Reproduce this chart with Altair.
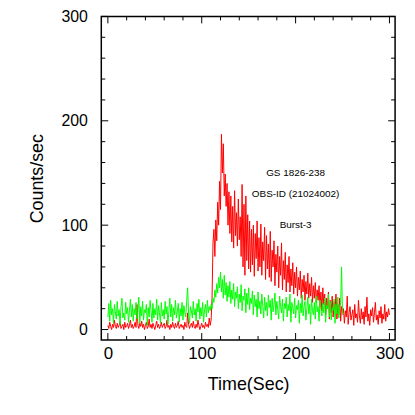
import altair as alt
import pandas as pd

# ---- data ----
red_counts = [
    4, 1, 7, 3, 0, 5, 2, 9, 3, 1,
    6, 2, 4, 8, 1, 3, 5, 0, 7, 2,
    3, 6, 1, 4, 9, 2, 5, 1, 3, 7,
    2, 24, 4, 1, 6, 3, 8, 2, 5, 0,
    4, 7, 1, 3, 10, 2, 5, 1, 6, 3,
    0, 4, 8, 2, 5, 1, 3, 7, 2, 4,
    6, 1, 3, 9, 2, 4, 0, 5, 2, 7,
    3, 1, 6, 2, 4, 8, 1, 3, 5, 2,
    4, 0, 7, 3, 2, 16, 5, 1, 4, 6,
    2, 8, 3, 1, 5, 2, 9, 4, 0, 3,
    6, 2, 4, 1, 7, 3, 5, 2, 11, 4,
    9, 30, 83, 96, 70, 105, 85, 122, 100, 142,
    115, 187, 150, 178, 128, 149, 118, 140, 100, 132,
    92, 128, 84, 118, 78, 133, 90, 112, 80, 125,
    86, 108, 70, 139, 60, 120, 52, 128, 66, 110,
    58, 104, 55, 96, 62, 100, 51, 92, 68, 104,
    56, 88, 60, 101, 52, 84, 66, 98, 48, 90,
    58, 82, 50, 94, 46, 76, 60, 85, 42, 72,
    55, 80, 40, 70, 52, 83, 38, 66, 48, 74,
    36, 62, 45, 70, 36, 58, 42, 64, 34, 55,
    40, 60, 32, 50, 38, 56, 30, 48, 36, 52,
    28, 46, 34, 54, 30, 44, 32, 50, 26, 42,
    30, 45, 26, 38, 28, 42, 22, 36, 18, 40,
    24, 34, 14, 30, 20, 36, 10, 28, 16, 32,
    12, 26, 18, 34, 10, 24, 14, 30, 8, 22,
    16, 20, 6, 18, 12, 32, 5, 16, 22, 9,
    14, 19, 4, 24, 11, 15, 7, 28, 13, 6,
    20, 10, 17, 5, 22, 12, 31, 8, 15, 4,
    19, 13, 21, 7, 16, 26, 9, 14, 5, 18,
    11, 22, 6, 15, 10, 24, 8, 17, 12, 20,
    14,
]

green_counts = [
    12, 25, 8, 28, 14, 20, 6, 24, 17, 10,
    27, 13, 19, 5, 22, 30, 11, 16, 9, 26,
    15, 21, 7, 18, 29, 12, 24, 8, 20, 14,
    26, 10, 17, 31, 6, 22, 13, 27, 9, 19,
    16, 24, 4, 21, 12, 28, 18, 7, 25, 11,
    20, 14, 29, 9, 23, 16, 6, 26, 13, 19,
    10, 27, 15, 22, 5, 18, 30, 12, 24, 8,
    21, 14, 28, 11, 17, 25, 7, 20, 13, 26,
    9, 23, 16, 12, 28, 40, 15, 6, 22, 18,
    11, 27, 14, 20, 8, 25, 17, 29, 10, 21,
    13, 26, 7, 19, 24, 12, 28, 16, 22, 18,
    24, 20, 30, 26, 38, 31, 44, 35, 50, 40,
    55, 36, 48, 30, 52, 33, 45, 27, 42, 31,
    46, 25, 38, 29, 44, 22, 36, 30, 41, 20,
    34, 26, 43, 18, 32, 28, 39, 16, 35, 24,
    40, 19, 30, 25, 37, 14, 33, 22, 29, 12,
    36, 20, 27, 15, 34, 23, 11, 31, 18, 26,
    13, 33, 21, 28, 9, 30, 17, 24, 35, 14,
    27, 19, 10, 32, 22, 16, 29, 8, 25, 20,
    31, 12, 24, 18, 34, 7, 26, 21, 15, 30,
    11, 23, 19, 28, 6, 25, 16, 33, 13, 22,
    27, 9, 20, 31, 15, 24, 5, 29, 18, 14,
    26, 10, 32, 17, 22, 8, 28, 19, 13, 25,
    16, 30, 7, 23, 20, 34, 12, 27, 9, 21,
    18, 29, 6, 24, 15, 31, 11, 22, 26, 60,
    14,
]

red_time = list(range(len(red_counts)))
green_time = list(range(len(green_counts)))

label_texts = ["GS 1826-238", "OBS-ID (21024002)", "Burst-3"]
label_x = [200, 200, 200]
label_y = [150, 130, 100]

x_major = [0, 100, 200, 300]
x_minor = [20, 40, 60, 80, 120, 140, 160, 180, 220, 240, 260, 280]
y_major = [0, 100, 200, 300]
y_minor = [20, 40, 60, 80, 120, 140, 160, 180, 220, 240, 260, 280]

# ---- layout ----
W, H = 296, 326
FONT = "Liberation Sans"
xscale = alt.Scale(domain=[-7, 306], nice=False, zero=False)
yscale = alt.Scale(domain=[-10, 300], nice=False, zero=False)

red_df = pd.DataFrame({"t": red_time, "c": red_counts})
green_df = pd.DataFrame({"t": green_time, "c": green_counts})
lab_df = pd.DataFrame({"x": label_x, "y": label_y, "text": label_texts})

x_axis = alt.Axis(values=x_major, ticks=False, domain=False, grid=False,
                  labelPadding=6, labelFontSize=17, labelFont=FONT,
                  title="Time(Sec)", titleFontSize=18, titleFont=FONT,
                  titleFontWeight="normal", titleX=148, titleY=50,
                  titleBaseline="alphabetic", titleAlign="center")
y_axis = alt.Axis(values=y_major, ticks=False, domain=False, grid=False,
                  labelPadding=14, labelFontSize=16, labelFont=FONT,
                  title="Counts/sec", titleFontSize=18, titleFont=FONT,
                  titleFontWeight="normal", titleX=-59, titleY=163,
                  titleAngle=-90, titleBaseline="alphabetic", titleAlign="center")

red = alt.Chart(red_df).mark_line(color="#ff0000", strokeWidth=1).encode(
    x=alt.X("t:Q", scale=xscale, axis=x_axis),
    y=alt.Y("c:Q", scale=yscale, axis=y_axis),
)
green = alt.Chart(green_df).mark_line(color="#00ff00", strokeWidth=1).encode(
    x=alt.X("t:Q", scale=xscale),
    y=alt.Y("c:Q", scale=yscale),
)

texts = alt.Chart(lab_df).mark_text(font=FONT, fontSize=10, color="black").encode(
    x=alt.X("x:Q", scale=xscale),
    y=alt.Y("y:Q", scale=yscale),
    text="text:N",
)


def xticks(vals, length):
    df = pd.DataFrame({"v": vals})
    bottom = alt.Chart(df).mark_rule(color="black", strokeWidth=1).encode(
        x=alt.X("v:Q", scale=xscale), y=alt.value(H), y2=alt.value(H - length))
    top = alt.Chart(df).mark_rule(color="black", strokeWidth=1).encode(
        x=alt.X("v:Q", scale=xscale), y=alt.value(0), y2=alt.value(length))
    return [bottom, top]


def yticks(vals, length):
    df = pd.DataFrame({"v": vals})
    left = alt.Chart(df).mark_rule(color="black", strokeWidth=1).encode(
        y=alt.Y("v:Q", scale=yscale), x=alt.value(0), x2=alt.value(length))
    right = alt.Chart(df).mark_rule(color="black", strokeWidth=1).encode(
        y=alt.Y("v:Q", scale=yscale), x=alt.value(W), x2=alt.value(W - length))
    return [left, right]


tick_layers = xticks(x_major, 7) + xticks(x_minor, 4) + yticks(y_major, 7) + yticks(y_minor, 4)

chart = alt.layer(red, green, texts, *tick_layers).properties(
    width=W, height=H,
    padding={"left": 94, "top": 7, "right": 12, "bottom": 60},
    autosize=alt.AutoSizeParams(type="none"),
).configure_view(
    stroke="black", strokeWidth=1.5
).configure_axis(
    labelColor="black", titleColor="black"
)

chart.save("out.html", embed_options={"renderer": "svg", "actions": False})
